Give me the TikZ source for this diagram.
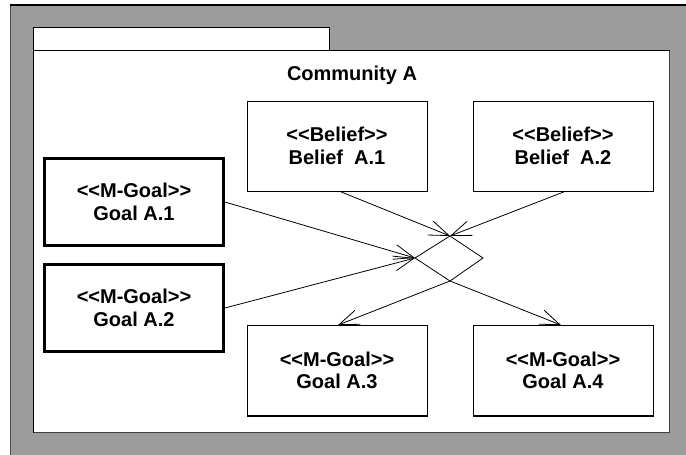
\documentclass[tikz,border=0pt]{standalone}
\usepackage{fontspec}
\setmainfont{Liberation Sans}[Ligatures=TeXOff]
\usetikzlibrary{arrows.meta}
\definecolor{panelgray}{HTML}{9C9C9C}
\begin{document}
\begin{tikzpicture}[x=1pt,y=-1pt,
  every node/.style={font=\fontsize{20}{22.5}\selectfont\bfseries},
  elem/.style={draw=black, fill=white, line width=0.9pt, align=center,
    minimum width=180pt, minimum height=90pt, inner sep=0pt},
  mgoal/.style={elem, line width=2.8pt, minimum width=179pt, minimum height=87pt},
  flow/.style={line width=0.8pt},
  flowarrow/.style={flow, -{Straight Barb[length=20pt,width=15pt,line width=0.8pt]}}]
  \useasboundingbox (0,0) rectangle (686,455);
  % grey surround
  \fill[panelgray] (10,5) rectangle (686,455);
  \draw[line width=0.8pt, black!70] (10,5) -- (10,455);
  \draw[line width=2pt] (10,4.5) -- (686,4.5);
  % package with its tab
  \draw[fill=white, line width=0.9pt] (33,27) rectangle (329,50);
  \draw[fill=white, line width=0.9pt] (33,50) rectangle (669,432);
  \draw[line width=1.2pt, black!75] (669.8,50.5) -- (669.8,432.8) -- (33.5,432.8);
  \node (title) at (352,75) {Community A};
  % elements
  \node[elem] (b1) at (337,146) {<<Belief>>\\Belief\ \ A.1};
  \node[elem] (b2) at (563,146) {<<Belief>>\\Belief\ \ A.2};
  \node[mgoal] (g1) at (134,202) {<<M-Goal>>\\Goal A.1};
  \node[mgoal] (g2) at (134,308) {<<M-Goal>>\\Goal A.2};
  \node[elem] (g3) at (337,370.5) {<<M-Goal>>\\Goal A.3};
  \node[elem] (g4) at (563,370.5) {<<M-Goal>>\\Goal A.4};
  % darker right and bottom edges of the plain elements
  \foreach \n in {b1,b2,g3,g4}
    \draw[line width=1.8pt] (\n.north east) -- (\n.south east) -- (\n.south west);
  % junction points
  \coordinate (jt) at (450,236);
  \coordinate (jl) at (415,258);
  \coordinate (jr) at (483,258);
  \coordinate (jb) at (450,281);
  % connectors
  \draw[flowarrow] ([xshift=3pt]b1.south) -- (jt);
  \draw[flowarrow] ([xshift=2pt]b2.south) -- (jt);
  \draw[flowarrow] (g1.east) -- (jl);
  \draw[flowarrow] (g2.east) -- (jl);
  \draw[flow] (jl) -- (jt) -- (jr) -- (jb) -- cycle;
  \draw[flowarrow] (jb) -- ([xshift=1pt]g3.north);
  \draw[flowarrow] (jb) -- ([xshift=-2pt]g4.north);
\end{tikzpicture}
\end{document}
